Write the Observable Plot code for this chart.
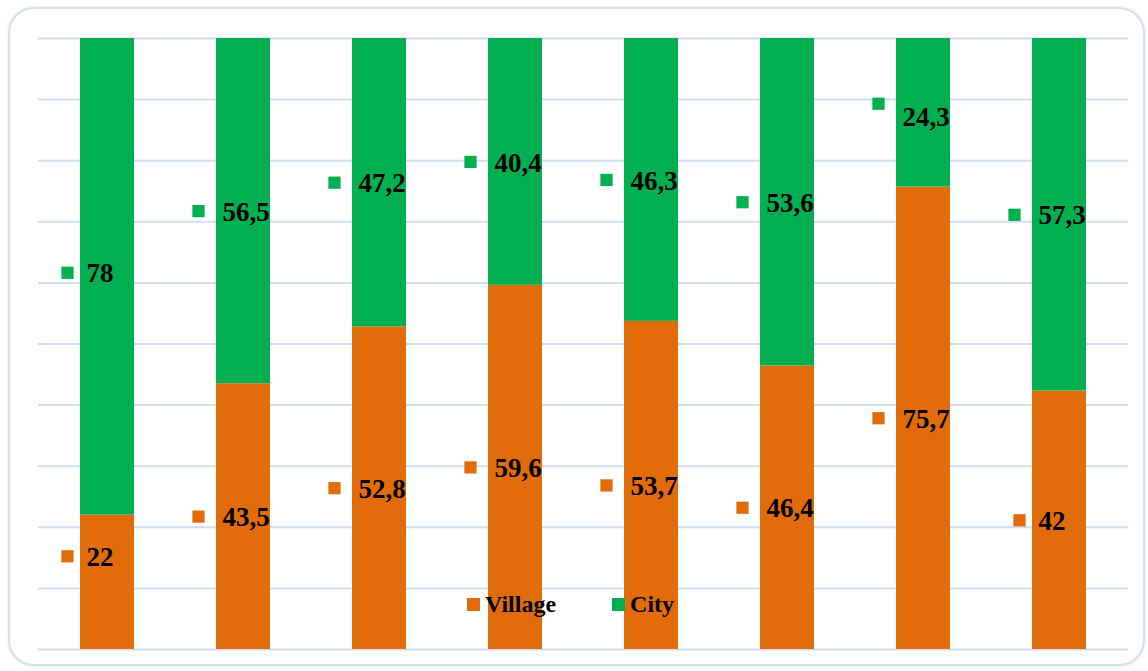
<!DOCTYPE html>
<html>
<head>
<meta charset="utf-8">
<script src="https://cdn.jsdelivr.net/npm/d3@7"></script>
<script src="https://cdn.jsdelivr.net/npm/@observablehq/plot@0.6"></script>
<style>
  html, body { margin: 0; padding: 0; background: #fff; }
  #wrap { position: relative; width: 1148px; height: 671px; overflow: hidden; }
  #frame {
    position: absolute; left: 8px; top: 7px; width: 1137px; height: 659px;
    border: 2px solid #d6dfec; border-radius: 26px; box-sizing: border-box;
    box-shadow: 0 0 3px rgba(190, 205, 228, 0.6);
  }
  #chart { position: absolute; left: 0; top: 0; }
  #legend {
    position: absolute; left: 467px; top: 591px;
    font: bold 24px "Liberation Serif", "Times New Roman", serif; color: #000;
    display: flex; align-items: center;
  }
  #legend .item { display: flex; align-items: center; }
  #legend .key { width: 13px; height: 13px; margin-right: 5px; }
  #legend .gap { width: 56px; }
</style>
</head>
<body>
<div id="wrap">
  <div id="frame"></div>
  <div id="chart"></div>
  <div id="legend">
    <div class="item"><span class="key" style="background:#e36c0a"></span>Village</div>
    <div class="gap"></div>
    <div class="item"><span class="key" style="background:#00b050"></span>City</div>
  </div>
</div>
<script>
// Share of population by settlement type, eight groups (percent)
const groups = ["1", "2", "3", "4", "5", "6", "7", "8"];
const village = [22, 43.5, 52.8, 59.6, 53.7, 46.4, 75.7, 42];
const city = [78, 56.5, 47.2, 40.4, 46.3, 53.6, 24.3, 57.3];
const seriesNames = ["Village", "City"];
const yTicks = [0, 10, 20, 30, 40, 50, 60, 70, 80, 90, 100];

const colors = { Village: "#e36c0a", City: "#00b050" };
const fmt = v => String(v).replace(".", ",");

// 100% stacked layout: village at the bottom, city on top
const rows = [];
groups.forEach((g, i) => {
  const total = village[i] + city[i];
  const v = village[i] / total * 100;
  rows.push({ group: g, type: "Village", value: village[i], y1: 0, y2: v, mid: v / 2 });
  rows.push({ group: g, type: "City", value: city[i], y1: v, y2: 100, mid: (v + 100) / 2 });
});

// Small hand nudges (in pixels) for a few labels
const textNudge = { "1-Village": -26, "1-City": -4, "7-City": 4 };
const keyNudge = { "1-Village": -26, "1-City": -4, "7-City": -9 };

const labelFont = "'Liberation Serif', 'Times New Roman', serif";

const labelMarks = rows.flatMap(r => {
  const k = `${r.group}-${r.type}`;
  const label = fmt(r.value);
  return [
    Plot.dot([r], {
      x: "group", y: "mid",
      symbol: "square", r: 6.9, fill: colors[r.type], stroke: "none",
      dx: label.length > 2 ? -45 : -40,
      dy: keyNudge[k] ?? 0
    }),
    Plot.text([r], {
      x: "group", y: "mid", text: () => label,
      textAnchor: "start", dx: -21, dy: (textNudge[k] ?? 0) + 1,
      fontSize: 27, fontWeight: "bold", fill: "#000", fontFamily: labelFont
    })
  ];
});

const chart = Plot.plot({
  width: 1148,
  height: 671,
  marginLeft: 38,
  marginRight: 20,
  marginTop: 38,
  marginBottom: 22,
  x: { domain: groups, paddingInner: 0.6, paddingOuter: 0.3, axis: null },
  y: { domain: [0, 100], axis: null },
  marks: [
    Plot.ruleY(yTicks, { stroke: "#d1dcef", strokeWidth: 2 }),
    Plot.barY(rows, { x: "group", y1: "y1", y2: "y2", fill: d => colors[d.type] }),
    ...labelMarks
  ]
});
document.getElementById("chart").appendChild(chart);
</script>
</body>
</html>
